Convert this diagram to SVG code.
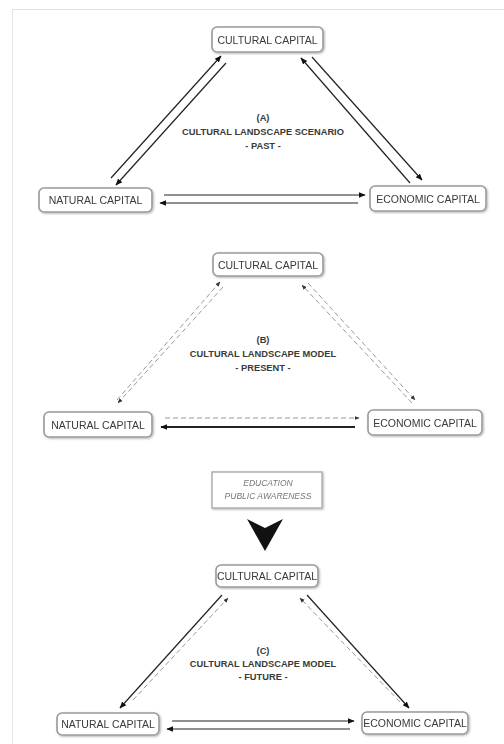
<svg xmlns="http://www.w3.org/2000/svg" width="504" height="744" viewBox="0 0 504 744">
<style>
.node rect{fill:#fff;stroke:#9a9a9a;stroke-width:1.6}
.node text{font-family:"Liberation Sans",Arial,sans-serif;font-size:10.5px;fill:#3a3a3a;text-anchor:middle}
.cap text{font-family:"Liberation Sans",Arial,sans-serif;font-size:9.3px;font-weight:bold;fill:#3a3a3a;text-anchor:middle}
.edu text{font-family:"Liberation Sans",Arial,sans-serif;font-size:8.5px;font-style:italic;fill:#777;text-anchor:middle}
.s{stroke:#222;stroke-width:1.2;fill:none;marker-end:url(#ah)}
.d{stroke:#999;stroke-width:1;fill:none;stroke-dasharray:5 3;marker-end:url(#ad)}
</style>
<defs>
<marker id="ah" viewBox="0 0 10 10" refX="9" refY="5" markerWidth="7" markerHeight="7" orient="auto" markerUnits="userSpaceOnUse"><path d="M0,1 L10,5 L0,9 Z" fill="#111"/></marker>
<marker id="ad" viewBox="0 0 10 10" refX="9" refY="5" markerWidth="5" markerHeight="5" orient="auto" markerUnits="userSpaceOnUse"><path d="M0,1 L10,5 L0,9 Z" fill="#333"/></marker>
<filter id="sh" x="-10%" y="-20%" width="120%" height="140%"><feGaussianBlur in="SourceAlpha" stdDeviation="1"/><feOffset dx="0.5" dy="0.5"/><feComponentTransfer><feFuncA type="linear" slope="0.3"/></feComponentTransfer><feMerge><feMergeNode/><feMergeNode in="SourceGraphic"/></feMerge></filter>
</defs>
<rect x="12.5" y="9.5" width="500" height="740" fill="#fff" stroke="#e2e2e2" stroke-width="1"/>

<g id="connectors">
<!-- A -->
<line class="s" x1="111" y1="178" x2="221" y2="56"/>
<line class="s" x1="226" y1="63" x2="116" y2="185"/>
<line class="s" x1="410" y1="183" x2="301" y2="58"/>
<line class="s" x1="312" y1="57" x2="422" y2="180"/>
<line class="s" x1="164" y1="195" x2="365" y2="195"/>
<line class="s" x1="358" y1="203" x2="160" y2="203"/>
<!-- B -->
<line class="d" x1="117" y1="400" x2="220" y2="282"/>
<line class="d" x1="223" y1="287" x2="118" y2="403"/>
<line class="d" x1="412" y1="403" x2="302" y2="285"/>
<line class="d" x1="308" y1="283" x2="415" y2="400"/>
<line class="d" x1="165" y1="418" x2="359" y2="418"/>
<line class="s" x1="355" y1="427" x2="161" y2="427" style="stroke-width:2"/>
<!-- C -->
<line class="s" x1="222" y1="595" x2="120" y2="708"/>
<line class="d" x1="133" y1="700" x2="228" y2="598"/>
<line class="s" x1="307" y1="595" x2="409" y2="708"/>
<line class="d" x1="400" y1="702" x2="300" y2="598"/>
<line class="s" x1="172" y1="721" x2="354" y2="721"/>
<line class="s" x1="350" y1="729" x2="167" y2="729"/>
<path d="M247,519 L265,528 L283,519 L265,551 Z" fill="#111"/>
</g>

<g id="nodeA-cultural" class="node" filter="url(#sh)"><rect x="212" y="27" width="111" height="25" rx="5"/><text x="267.5" y="43.5">CULTURAL CAPITAL</text></g>
<g id="nodeA-natural" class="node" filter="url(#sh)"><rect x="39" y="188" width="113" height="24" rx="5"/><text x="95.5" y="204">NATURAL CAPITAL</text></g>
<g id="nodeA-economic" class="node" filter="url(#sh)"><rect x="370" y="186" width="116" height="25" rx="5"/><text x="428" y="202.5">ECONOMIC CAPITAL</text></g>
<g id="capA" class="cap"><text x="263" y="121">(A)</text><text x="263" y="135">CULTURAL LANDSCAPE SCENARIO</text><text x="263" y="149">- PAST -</text></g>

<g id="nodeB-cultural" class="node" filter="url(#sh)"><rect x="213" y="253" width="110" height="23" rx="5"/><text x="268" y="268.5">CULTURAL CAPITAL</text></g>
<g id="nodeB-natural" class="node" filter="url(#sh)"><rect x="44" y="412" width="108" height="25" rx="5"/><text x="98" y="428.5">NATURAL CAPITAL</text></g>
<g id="nodeB-economic" class="node" filter="url(#sh)"><rect x="368" y="410" width="114" height="25" rx="5"/><text x="425" y="426.5">ECONOMIC CAPITAL</text></g>
<g id="capB" class="cap"><text x="263" y="343">(B)</text><text x="263" y="357">CULTURAL LANDSCAPE MODEL</text><text x="263" y="371">- PRESENT -</text></g>

<g id="education" class="edu" filter="url(#sh)"><rect x="212" y="472" width="110" height="36" fill="#fff" stroke="#aaa" stroke-width="1.4"/><text x="268" y="486">EDUCATION</text><text x="268" y="499">PUBLIC AWARENESS</text></g>

<g id="nodeC-cultural" class="node" filter="url(#sh)"><rect x="216" y="565" width="102" height="22" rx="5"/><text x="267" y="580">CULTURAL CAPITAL</text></g>
<g id="nodeC-natural" class="node" filter="url(#sh)"><rect x="57" y="713" width="102" height="22" rx="5"/><text x="108" y="728">NATURAL CAPITAL</text></g>
<g id="nodeC-economic" class="node" filter="url(#sh)"><rect x="362" y="712" width="106" height="22" rx="5"/><text x="415" y="727">ECONOMIC CAPITAL</text></g>
<g id="capC" class="cap"><text x="263" y="654">(C)</text><text x="263" y="667">CULTURAL LANDSCAPE MODEL</text><text x="263" y="680">- FUTURE -</text></g>
</svg>
